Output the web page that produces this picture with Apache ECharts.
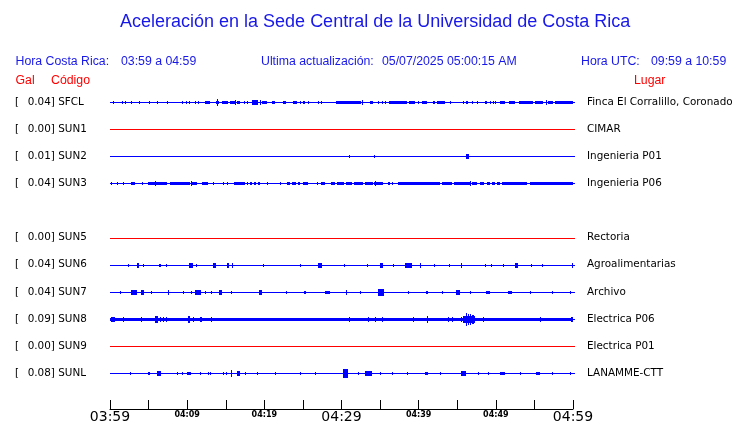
<!DOCTYPE html>
<html>
<head>
<meta charset="utf-8">
<script src="https://cdn.jsdelivr.net/npm/echarts@6/dist/echarts.min.js"></script>
<style>
html,body{margin:0;padding:0;background:#fff;}
#chart{width:740px;height:423px;}
</style>
</head>
<body>
<div id="chart"></div>
<script>
// ---------------- data ----------------
const titleText = 'Aceleración en la Sede Central de la Universidad de Costa Rica';
const headerCR = ['Hora Costa Rica:', '03:59 a 04:59'];
const headerUpd = ['Ultima actualización:', '05/07/2025 05:00:15 AM'];
const headerUTC = ['Hora UTC:', '09:59 a 10:59'];

const codes = ['SFCL','SUN1','SUN2','SUN3','SUN5','SUN6','SUN7','SUN8','SUN9','SUNL'];
const galPeaks = ['0.04','0.00','0.01','0.04','0.00','0.04','0.04','0.09','0.00','0.08'];
const places = ['Finca El Corralillo, Coronado','CIMAR','Ingenieria P01','Ingenieria P06','Rectoria',
  'Agroalimentarias','Archivo','Electrica P06','Electrica P01','LANAMME-CTT'];
const rowSlots = [1,2,3,4,6,7,8,9,10,11];   // slot 5 (SUN4) is empty

// time axis: minutes after 03:59
const timeLabels = ['03:59','04:04','04:09','04:14','04:19','04:24','04:29','04:34','04:39','04:44','04:49','04:54','04:59'];

// trace envelopes: [startMin, endMin, relative amplitude]
const sfclBursts = [[0.4,0.4,1],[1.55,1.55,0.6],[1.95,1.95,0.6],[2.7,2.7,1],[3.75,3.75,0.6],[5.05,5.1,1],[6.1,6.1,1],
  [7.4,7.4,0.8],[9.3,9.3,0.8],[9.85,9.9,1],[10.25,10.25,0.8],[11.0,11.15,1.3],[11.4,11.4,1],[12.3,12.95,1.3],
  [13.7,14.1,1.3],[13.85,13.85,2.5],[14.5,14.5,1],[14.65,15.3,1.3],[15.55,16.2,1.3],[16.2,16.2,2],[16.45,16.85,1],
  [17.35,17.35,1],[17.75,17.75,0.8],[18.4,19.2,2.2],[19.45,19.45,2],[19.7,20.35,1.3],[21.0,21.4,1],[22.4,22.8,1.3],
  [23.7,24.25,1.3],[24.6,24.6,0.7],[25.0,25.25,1],[25.65,25.65,1],[26.95,26.95,0.7],[27.3,27.3,0.7],[29.3,32.5,1.3],
  [32.6,32.6,2],[33.7,34.1,1],[34.77,34.77,0.8],[35.2,35.2,0.6],[35.64,35.64,0.6],[36.2,38.45,1.3],[38.8,39.5,1.1],
  [39.95,39.95,0.8],[40.4,41.05,1.2],[41.9,42.1,1],[42.35,43.4,1.2],[44.05,44.05,0.8],[45.7,45.7,0.6],[46.1,46.45,1],
  [46.85,46.85,1],[47.5,47.5,1],[48.6,48.8,0.8],[49.25,49.25,0.8],[49.65,49.65,0.8],[49.9,49.9,0.8],[50.55,51.2,1.1],
  [51.75,52.5,1.1],[53.05,54.85,1.2],[55.05,56.15,1.2],[56.45,56.45,2],[56.8,57.45,1.2],[57.65,60,1.2]];
const sun2Bursts = [[31.0,31.0,0.8],[34.2,34.2,1],[46.1,46.5,1.5]];
const sun3Bursts = [[0.1,0.25,1],[0.87,0.87,0.6],[1.65,1.65,0.6],[2.68,3.24,1],[4.1,4.3,1],[4.96,7.35,1],[5.83,5.83,1.5],
  [7.77,10.37,1],[10.46,10.46,2.2],[10.59,11.23,1],[11.88,12.74,1],[13.3,13.48,1],[14.6,14.77,0.8],[15.12,15.33,0.8],
  [16.07,17.5,1.2],[17.71,17.9,1],[18.2,18.45,1],[18.7,18.95,1],[19.2,19.44,1],[20.3,20.5,1],[22.03,22.03,0.6],
  [22.98,23.3,1],[23.6,24.1,1],[24.35,24.62,1],[24.97,25.7,1.2],[26.78,26.95,1],[27.35,27.86,1],[28.64,29.16,1],
  [29.4,30.32,1],[30.58,31.36,1],[31.62,32.78,1],[33.04,34.08,1],[34.2,35.4,1.2],[34.34,34.34,2],[36.06,36.3,0.8],
  [36.5,36.7,0.8],[37.36,42.76,1.2],[42.98,44.28,1.2],[44.58,46.65,1.3],[46.65,46.65,2],[46.9,47.6,1],[47.9,48.5,1],
  [48.8,49.2,1],[49.5,49.9,1],[50.1,50.54,0.7],[50.76,54.0,1.2],[54.43,60,1.2]];
const sun6Bursts = [[2.29,2.29,1],[3.46,3.8,2],[4.32,4.32,1],[6.39,6.61,1],[7.22,7.22,1],[10.28,10.72,2],[11.14,11.14,1],
  [13.39,13.74,1.5],[15.12,15.38,1.5],[15.77,15.77,2],[19.83,19.83,1],[24.62,24.62,1],[26.95,27.47,1.5],[30.32,30.32,1],
  [33.3,33.3,1],[34.99,35.38,1.5],[36.67,36.67,1],[38.23,39.13,1.5],[40.17,40.17,1.5],[41.99,41.99,1],[43.93,43.93,1],
  [45.48,45.48,1.5],[48.59,48.59,1],[49.37,49.37,1],[50.93,50.93,1],[52.48,52.87,1.5],[54.56,54.56,1],[55.98,55.98,1],
  [59.87,59.87,1.5]];
const sun7Bursts = [[1.3,1.3,0.6],[2.68,2.94,2],[3.02,3.54,1.5],[3.98,4.41,1.5],[5.27,5.27,0.6],[7.48,7.48,1.5],[9.5,9.5,0.8],
  [10.46,10.46,1],[11.01,11.79,2],[12.31,12.31,0.6],[13.05,13.05,1],[14.16,14.47,1.5],[15.68,15.68,1],[19.31,19.7,1.5],
  [22.81,22.81,1],[25.14,25.4,1],[27.86,28.51,1.3],[30.58,30.58,1.5],[32.4,32.4,1],[34.73,35.5,2.5],[38.62,38.62,1],
  [40.95,41.21,1.3],[43.02,43.02,1],[44.84,45.35,2.3],[46.65,46.65,1],[48.72,49.24,1.3],[51.57,52.09,1],[54.43,54.43,1],
  [57.28,57.28,1],[59.61,59.61,1]];
const sun8Bursts = [[0,60,1.3],[0.1,0.65,2],[1.72,1.72,2],[3.98,3.98,2],[5.83,6.26,2.5],[6.48,6.48,2],[6.83,6.83,2],
  [7.26,7.26,1.8],[10.07,10.37,2.5],[10.72,10.72,2],[11.66,11.88,2],[13.05,13.05,2],[31.01,31.01,2],[33.47,33.47,2],
  [34.34,34.34,1.8],[35.2,35.2,1.8],[39.22,39.22,1.8],[41.04,41.04,3],[43.84,43.84,1.8],[44.28,44.28,1.5],[45.45,45.45,2],
  [45.78,47.3,3],[46.13,46.13,6],[46.33,46.33,4.5],[46.59,46.59,5],[46.85,46.85,4],[47.1,47.1,3.5],[48.3,48.3,1.8],
  [55.72,55.72,1.8],[59.7,60,2]];
const sunlBursts = [[2.59,2.59,0.6],[4.96,5.18,1.3],[6.05,6.57,2],[8.64,8.64,1],[9.29,9.29,1],[9.94,10.46,1.3],[11.66,11.66,1],
  [12.74,12.74,0.8],[12.96,12.96,0.8],[14.6,14.6,1.3],[15.03,15.03,1],[15.68,15.68,2.5],[16.5,16.85,2],[17.49,17.49,1],
  [19.05,19.05,1],[21.38,21.38,1],[24.62,24.62,1],[26.56,26.56,1],[30.19,30.84,3.5],[32.14,32.14,1],[33.04,33.95,1.5],
  [34.99,34.99,1],[36.54,36.54,1],[38.49,38.49,1],[40.82,41.21,1.3],[42.76,42.76,1],[45.48,46.13,1.5],[47.69,47.69,1],
  [48.98,48.98,1],[50.54,51.19,1.3],[53.13,53.13,1],[55.2,55.72,1.3],[57.28,57.28,1],[59.61,59.61,1]];
const burstSets = [sfclBursts, [], sun2Bursts, sun3Bursts, [], sun6Bursts, sun7Bursts, sun8Bursts, [], sunlBursts];

// ---------------- styling ----------------
const BLUE = '#0000ff';
const RED = '#ff0000';
const TXT_BLUE = '#1818e8';
const GAIN = 1 / 27.1;   // y-units (rows) per amplitude unit
const LABEL_FONT = 'DejaVu Sans';
const LABEL_SIZE = 10.4;

function isDead(i) { return Number(galPeaks[i]) === 0; }

const baselineData = codes.map((c, i) => ({value: [0, 60, rowSlots[i]], itemStyle: {color: isDead(i) ? RED : BLUE}}));
const burstData = [];
burstSets.forEach((set, i) => set.forEach(b => burstData.push([b[0], b[1], rowSlots[i], b[2]])));

function slotIndex(v) { return rowSlots.indexOf(Math.round(v)); }

const chart = echarts.init(document.getElementById('chart'), null, {renderer: 'canvas'});
const hdrFont = '12.3px "Liberation Sans", Arial, sans-serif';
function hdr(x, y, text, color) {
  return {type: 'text', x: x, y: y, style: {text: text, font: hdrFont, fill: color, align: 'left', verticalAlign: 'middle'}};
}

const option = {
  animation: false,
  backgroundColor: '#fff',
  title: {
    text: titleText, left: 120, top: 13, padding: 0,
    textStyle: {fontFamily: '"Liberation Sans", Arial, sans-serif', fontSize: 18, fontWeight: 'normal', color: TXT_BLUE}
  },
  graphic: [
    hdr(15.5, 61.5, headerCR[0], TXT_BLUE), hdr(121, 61.5, headerCR[1], TXT_BLUE),
    hdr(261, 61.5, headerUpd[0], TXT_BLUE), hdr(382, 61.5, headerUpd[1], TXT_BLUE),
    hdr(581, 61.5, headerUTC[0], TXT_BLUE), hdr(651, 61.5, headerUTC[1], TXT_BLUE),
    hdr(15.5, 81, 'Gal', RED), hdr(51, 81, 'Código', RED), hdr(634, 81, 'Lugar', RED)
  ],
  grid: {left: 110, right: 167, top: 75, bottom: 14, containLabel: false, outerBoundsMode: 'none'},
  xAxis: {
    type: 'value', min: 0, max: 60, interval: 5, position: 'bottom',
    axisLine: {show: true, onZero: false, lineStyle: {color: '#000', width: 1}},
    axisTick: {show: true, inside: true, length: 9, lineStyle: {color: '#000', width: 1}},
    splitLine: {show: false},
    axisLabel: {
      margin: 2, showMinLabel: true, showMaxLabel: true,
      formatter: function (v) {
        const k = Math.round(v / 5);
        if (k % 6 === 0) return '{big|' + timeLabels[k] + '}';
        if (k % 2 === 0) return '{small|' + timeLabels[k] + '}';
        return '';
      },
      rich: {
        big: {fontFamily: LABEL_FONT, fontSize: 14, color: '#000', lineHeight: 12},
        small: {fontFamily: LABEL_FONT, fontSize: 8, fontWeight: 'bold', color: '#000', lineHeight: 8}
      }
    }
  },
  yAxis: [
    {
      type: 'value', inverse: true, min: 0, max: 12.32, interval: 1, position: 'left',
      axisLine: {show: false}, axisTick: {show: false}, splitLine: {show: false},
      axisLabel: {
        align: 'left', margin: 95,
        formatter: function (v) {
          const i = slotIndex(v);
          if (i < 0 || Math.abs(v - rowSlots[i]) > 0.01) return '';
          return '{br|[}{val|' + galPeaks[i] + ']} {code|' + codes[i] + '}';
        },
        rich: {
          br: {fontFamily: LABEL_FONT, fontSize: LABEL_SIZE, color: '#000', width: 12.7},
          val: {fontFamily: LABEL_FONT, fontSize: LABEL_SIZE, color: '#000'},
          code: {fontFamily: LABEL_FONT, fontSize: LABEL_SIZE, color: '#000'}
        }
      }
    },
    {
      type: 'value', inverse: true, min: 0, max: 12.32, interval: 1, position: 'right',
      axisLine: {show: false}, axisTick: {show: false}, splitLine: {show: false},
      axisLabel: {
        align: 'left', margin: 14, fontFamily: LABEL_FONT, fontSize: LABEL_SIZE, color: '#000',
        formatter: function (v) {
          const i = slotIndex(v);
          if (i < 0 || Math.abs(v - rowSlots[i]) > 0.01) return '';
          return places[i];
        }
      }
    }
  ],
  series: [
    {
      type: 'custom', name: 'baselines', coordinateSystem: 'cartesian2d', xAxisIndex: 0, yAxisIndex: 0,
      clip: false, silent: true,
      encode: {x: [0, 1], y: 2},
      data: baselineData,
      renderItem: function (params, api) {
        const slot = api.value(2);
        const p0 = api.coord([api.value(0), slot]);
        const p1 = api.coord([api.value(1), slot]);
        const y = Math.round(p0[1]);
        const x0 = Math.round(p0[0]);
        return {type: 'rect', shape: {x: x0, y: y, width: Math.round(p1[0]) - x0 + 2, height: 1},
          style: {fill: api.visual('color')}};
      }
    },
    {
      type: 'custom', name: 'traces', coordinateSystem: 'cartesian2d', xAxisIndex: 0, yAxisIndex: 0,
      clip: false, silent: true,
      itemStyle: {color: BLUE},
      encode: {x: [0, 1], y: 2},
      data: burstData,
      renderItem: function (params, api) {
        const t0 = api.value(0), t1 = api.value(1), slot = api.value(2), amp = api.value(3);
        const p0 = api.coord([t0, slot]);
        const p1 = api.coord([t1, slot]);
        const h = Math.round(api.size([0, amp * GAIN])[1]);
        const x0 = Math.round(p0[0]);
        const x1 = Math.max(x0 + 1, Math.round(p1[0]));
        const yc = Math.round(p0[1]);
        return {type: 'rect', shape: {x: x0, y: yc - h, width: x1 - x0, height: 2 * h + 1}, style: {fill: api.visual('color')}};
      }
    }
  ]
};
chart.setOption(option);
</script>
</body>
</html>
